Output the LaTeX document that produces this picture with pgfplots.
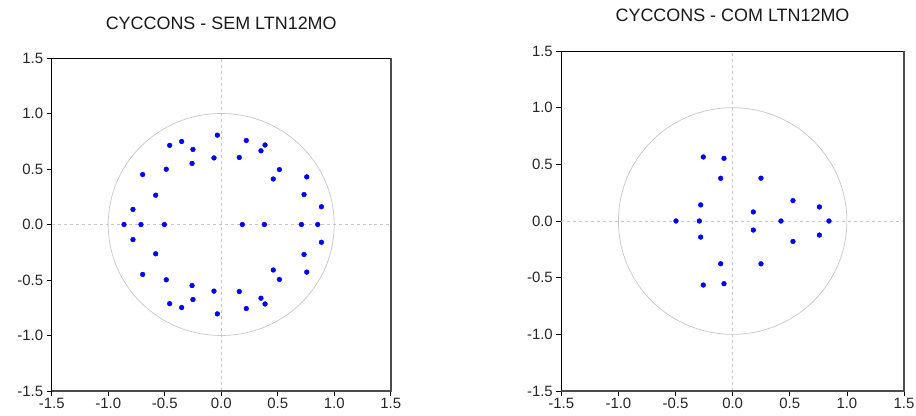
\documentclass[border=0pt]{standalone}
\usepackage{pgfplots}
\pgfplotsset{compat=1.18}
\usepackage{pgfplotstable}
\usepackage{fontspec}
\setmainfont{Liberation Sans}

\pgfplotstableread{
x y
-0.034 0.805
-0.034 -0.805
0.222 0.757
0.222 -0.757
0.388 0.716
0.388 -0.716
0.352 0.664
0.352 -0.664
0.160 0.604
0.160 -0.604
-0.064 0.600
-0.064 -0.600
-0.250 0.676
-0.250 -0.676
-0.350 0.748
-0.350 -0.748
-0.456 0.713
-0.456 -0.713
-0.258 0.550
-0.258 -0.550
-0.486 0.498
-0.486 -0.498
-0.695 0.450
-0.695 -0.450
-0.580 0.264
-0.580 -0.264
-0.781 0.136
-0.781 -0.136
0.515 0.495
0.515 -0.495
0.461 0.410
0.461 -0.410
0.757 0.429
0.757 -0.429
0.733 0.270
0.733 -0.270
0.887 0.160
0.887 -0.160
-0.860 0
-0.710 0
-0.503 0
0.187 0
0.382 0
0.710 0
0.854 0
}\leftdata

\pgfplotstableread{
x y
-0.257 0.565
-0.257 -0.565
-0.076 0.553
-0.076 -0.553
-0.105 0.377
-0.105 -0.377
0.248 0.378
0.248 -0.378
-0.280 0.142
-0.280 -0.142
0.528 0.180
0.528 -0.180
0.759 0.124
0.759 -0.124
0.181 0.080
0.181 -0.080
-0.496 0
-0.292 0
0.423 0
0.843 0
}\rightdata

\pgfplotsset{
  rootaxis/.style={
    scale only axis,
    xmin=-1.5, xmax=1.5, ymin=-1.5, ymax=1.5,
    xtick={-1.5,-1,-0.5,0,0.5,1,1.5},
    ytick={-1.5,-1,-0.5,0,0.5,1,1.5},
    /pgf/number format/.cd, fixed, fixed zerofill, precision=1, assume math mode=true, /pgfplots/.cd,
    tick align=outside,
    tick pos=left,
    major tick length=5bp,
    tick style={black, line width=0.8bp},
    axis line style={black, line width=1bp},
    tick label style={font=\fontsize{15}{17}\selectfont, text=black!85},
    xticklabel style={yshift=1bp},
    extra x ticks={0}, extra y ticks={0},
    extra tick style={grid=major, major tick length=0pt, xticklabel={}, yticklabel={}},
    extra x tick labels={}, extra y tick labels={},
    grid style={black!22, dashed, line width=0.6bp},
    clip=false,
  },
  rootmarks/.style={only marks, mark=*, mark size=2.4bp, blue, mark options={draw=blue, fill=blue}},
}

\begin{document}
\begin{tikzpicture}[x=1bp, y=1bp]
\useasboundingbox (0,0) rectangle (916,415);

\begin{axis}[rootaxis, at={(51.7bp,24bp)}, anchor=south west, width=339bp, height=333bp]
\draw[black!22, line width=0.7bp] (axis cs:0,0) ellipse [x radius=1, y radius=1];
\addplot[rootmarks] table[x=x, y=y] {\leftdata};
\draw[black!70, line width=1.6bp] (rel axis cs:0,0) -- (rel axis cs:1,0) -- (rel axis cs:1,1);
\end{axis}

\begin{axis}[rootaxis, at={(561.3bp,24bp)}, anchor=south west, width=342.7bp, height=340bp]
\draw[black!22, line width=0.7bp] (axis cs:0,0) ellipse [x radius=1, y radius=1];
\addplot[rootmarks] table[x=x, y=y] {\rightdata};
\draw[black!70, line width=1.6bp] (rel axis cs:0,0) -- (rel axis cs:1,0) -- (rel axis cs:1,1);
\end{axis}

\node[font=\fontsize{18}{21}\selectfont, text=black!90] at (221.2bp,392bp) {CYCCONS - SEM LTN12MO};
\node[font=\fontsize{18}{21}\selectfont, text=black!90] at (732.5bp,400bp) {CYCCONS - COM LTN12MO};
\end{tikzpicture}
\end{document}
